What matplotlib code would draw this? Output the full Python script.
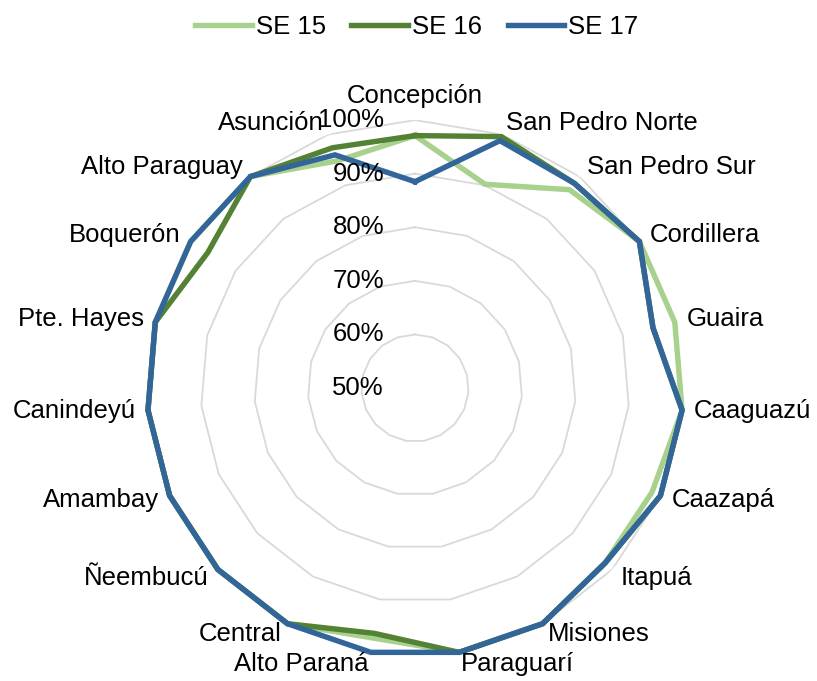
import matplotlib
matplotlib.use('agg')
import matplotlib.pyplot as plt
import matplotlib.transforms as mtransforms
import numpy as np

plt.rcParams['font.family'] = ['Liberation Sans', 'DejaVu Sans']

categories = ['Concepción', 'San Pedro Norte', 'San Pedro Sur', 'Cordillera', 'Guaira',
              'Caaguazú', 'Caazapá', 'Itapuá', 'Misiones', 'Paraguarí', 'Alto Paraná',
              'Central', 'Ñeembucú', 'Amambay', 'Canindeyú', 'Pte. Hayes', 'Boquerón',
              'Alto Paraguay', 'Asunción']

se15 = [97.1, 90.2, 96.9, 100, 100, 100, 98.3, 98.2, 100, 100, 97.3,
        100, 100, 100, 100, 100, 100, 100, 94.8]
se16 = [97.1, 99.6, 98.4, 100, 95.8, 100, 100, 98.2, 100, 100, 96.4,
        100, 100, 100, 100, 100, 96.2, 100, 97.4]
se17 = [88.5, 98.8, 98.4, 100, 95.8, 100, 100, 98.2, 100, 100, 100,
        100, 100, 100, 100, 100, 100, 100, 96.0]

series_names = ['SE 15', 'SE 16', 'SE 17']
colors = ['#A9D18E', '#548235', '#32659A']
rings = [60, 70, 80, 90, 100]
ring_labels = ['60%', '70%', '80%', '90%', '100%']
r_min, r_max = 50, 100

FS = 18.5
fig = plt.figure(figsize=(8.17, 6.81), dpi=100)
ax = fig.add_axes([0.18, 0.0367, 0.656, 0.787], projection='polar')
ax.set_theta_zero_location('N')
ax.set_theta_direction(-1)
ax.set_ylim(r_min, r_max)
ax.grid(False)
ax.set_xticks([])
ax.set_yticks([])
ax.spines['polar'].set_visible(False)

n = len(categories)
angles = np.arange(n) * 2 * np.pi / n
closed = np.append(angles, angles[0])

# polygon gridlines
for r in rings:
    ax.plot(closed, [r] * (n + 1), color='#D9D9D9', lw=1.3, zorder=1)

for name, vals, c in zip(series_names, [se15, se16, se17], colors):
    v = list(vals) + [vals[0]]
    ax.plot(closed, v, color=c, lw=3.9, label=name, zorder=3,
            solid_joinstyle='miter', clip_on=False)

# radial labels, left of centre
for r, lab in zip([50] + rings, ['50%'] + ring_labels):
    tr = mtransforms.offset_copy(ax.transData, fig=fig, x=-31, y=0, units='dots')
    ax.text(0, r, lab, transform=tr, ha='right', va='center', fontsize=FS, zorder=4)

# category labels
d = 12
for a, lab in zip(angles, categories):
    s, c = np.sin(a), np.cos(a)
    if s > 0.05:
        ha = 'left'
    elif s < -0.05:
        ha = 'right'
    else:
        ha = 'center'
    va = 'bottom' if abs(s) < 0.05 and c > 0 else 'center'
    tr = mtransforms.offset_copy(ax.transData, fig=fig, x=s * d, y=c * d, units='dots')
    ax.text(a, r_max, lab, transform=tr, ha=ha, va=va, fontsize=FS, zorder=4)

fig.legend(loc='center', bbox_to_anchor=(0.51, 0.96), ncol=3, frameon=False,
           fontsize=FS, handlelength=2.2, handletextpad=0.15, columnspacing=1.0)

fig.savefig('out.png', dpi=100)
